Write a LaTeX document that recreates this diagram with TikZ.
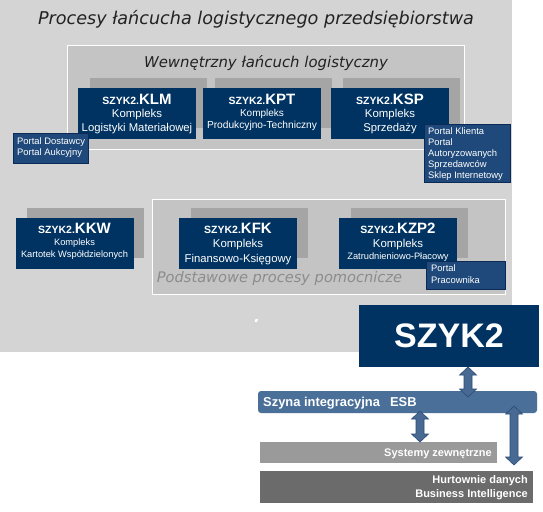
\documentclass[tikz,border=0pt]{standalone}
\usepackage{fontspec}
\setmainfont{Liberation Sans}
\newfontfamily\djv{DejaVu Sans}
\usetikzlibrary{calc}
\definecolor{bgc}{RGB}{212,212,212}
\definecolor{panelc}{RGB}{196,196,196}
\definecolor{shadowc}{RGB}{165,165,165}
\definecolor{navy}{RGB}{0,51,98}
\definecolor{portalc}{RGB}{31,73,122}
\definecolor{portalb}{RGB}{12,42,88}
\definecolor{esbc}{RGB}{74,111,152}
\definecolor{arrc}{RGB}{72,106,146}
\definecolor{arrb}{RGB}{42,76,120}
\definecolor{sysc}{RGB}{154,154,154}
\definecolor{hurc}{RGB}{107,107,107}
\definecolor{titc}{RGB}{34,34,34}
\definecolor{podc}{RGB}{140,140,140}
\tikzset{
  px/.style={x=1pt,y=-1pt},
  panel/.style={draw=white,line width=1pt,fill=panelc},
  modbox/.style={fill=navy,draw=none,minimum width=118pt,minimum height=51pt,inner sep=0pt},
  shadowbox/.style={fill=shadowc,draw=none,minimum width=117pt,minimum height=50pt,inner sep=0pt},
  portal/.style={fill=portalc,draw=portalb,line width=0.8pt},
  wtxt/.style={text=white,inner sep=0pt,anchor=base},
  ptxt/.style={text=white,inner sep=0pt,anchor=base west,font=\fontsize{9.4}{11}\selectfont},
  arrowst/.style={fill=arrc,draw=arrb,line width=0.6pt},
}
\newcommand{\modboxes}[3]{% name, cx, cy
  \node[shadowbox] (#1s) at (#2+11,#3-11) {};
  \node[modbox] (#1) at (#2,#3) {};
}
\newcommand{\modtxt}[9]{% name, code, off1, line2, size2, off2, line3, size3, off3
  \node[wtxt] at ($(#1.north)+(0,#3)$) {\bfseries\fontsize{10.5}{12}\selectfont SZYK2.\fontsize{15}{18}\selectfont #2};
  \node[wtxt,font=\fontsize{#5}{12}\selectfont] at ($(#1.north)+(0,#6)$) {#4};
  \node[wtxt,font=\fontsize{#8}{12}\selectfont] at ($(#1.north)+(0,#9)$) {#7};
}
\newcommand{\vdarrow}[4]{% name, x, ytop, ybot
  \filldraw[arrowst] (#2,#3) -- (#2+8.5,#3+8) -- (#2+4,#3+8) -- (#2+4,#4-8) -- (#2+8.5,#4-8) -- (#2,#4) -- (#2-8.5,#4-8) -- (#2-4,#4-8) -- (#2-4,#3+8) -- (#2-8.5,#3+8) -- cycle;
}
\begin{document}
\begin{tikzpicture}[px]
\useasboundingbox (0,0) rectangle (543,511);
\fill[white] (0,0) rectangle (543,511);
% background
\fill[bgc] (0,0) rectangle (512,352);
\node[text=titc,font=\djv\itshape\fontsize{17.6}{20}\selectfont] (title) at (256,19.5) {Procesy łańcucha logistycznego przedsiębiorstwa};
% inner panel
\draw[panel] (67,46) rectangle (464,149);
\node[text=titc,font=\djv\itshape\fontsize{14.9}{17}\selectfont] (wew) at (266,63) {Wewnętrzny łańcuch logistyczny};
% second panel
\draw[panel] (152,199) rectangle (505,294);
\node[text=podc,font=\djv\itshape\fontsize{14.6}{17}\selectfont] (pod) at (279.5,278) {Podstawowe procesy pomocnicze};
% modules
\modboxes{klm}{137}{113.5}
\modboxes{kpt}{262}{113.5}
\modboxes{ksp}{390}{113.5}
\modboxes{kkw}{74.5}{243.5}
\modboxes{kfk}{238}{243.5}
\modboxes{kzp}{398}{243.5}
\modtxt{klm}{KLM}{17}{Kompleks}{11.4}{30}{Logistyki Materiałowej}{11.3}{44}
\modtxt{kpt}{KPT}{17}{Kompleks}{10}{29}{Produkcyjno-Techniczny}{10.2}{41}
\modtxt{ksp}{KSP}{17}{Kompleks}{11.4}{30}{Sprzedaży}{11.3}{44}
\modtxt{kkw}{KKW}{15.5}{Kompleks}{9.3}{28}{Kartotek Współdzielonych}{9.3}{39.5}
\modtxt{kfk}{KFK}{16}{Kompleks}{11.4}{30}{Finansowo-Księgowy}{11.3}{45}
\modtxt{kzp}{KZP2}{16}{Kompleks}{11.4}{30}{Zatrudnieniowo-Płacowy}{9.3}{42}
% portals
\draw[portal] (13,133) rectangle (88,163);
\coordinate (pd) at (17,144);
\node[ptxt] at (pd) {Portal Dostawcy};
\node[ptxt] at ($(pd)+(0,11.5)$) {Portal Aukcyjny};
\draw[portal] (424,124) rectangle (510,182);
\coordinate (pk) at (428,134.5);
\node[ptxt] at (pk) {Portal Klienta};
\node[ptxt] at ($(pk)+(0,10.5)$) {Portal};
\node[ptxt] at ($(pk)+(0,21.5)$) {Autoryzowanych};
\node[ptxt] at ($(pk)+(0,32.5)$) {Sprzedawców};
\node[ptxt] at ($(pk)+(0,44)$) {Sklep Internetowy};
\draw[portal] (426,261) rectangle (505,289);
\coordinate (pp) at (431,271.5);
\node[ptxt] at (pp) {Portal};
\node[ptxt] at ($(pp)+(0,12)$) {Pracownika};
% tiny mark
\fill[white] (254.5,322) -- (255.5,319) -- (258,319) -- (257,322) -- cycle;
% SZYK2
\node[fill=navy,minimum width=180pt,minimum height=62pt,inner sep=0pt,text=white,font=\bfseries\fontsize{34}{36}\selectfont] (szyk) at (449,336) {SZYK2};
% ESB
\node[fill=esbc,rounded corners=3pt,minimum width=279pt,minimum height=22pt,inner sep=0pt] (esb) at (397.5,402) {};
\node[wtxt,anchor=base west,font=\bfseries\fontsize{12.9}{14}\selectfont] at (263,406.5) {Szyna integracyjna\hspace{10pt}ESB};
% lower boxes
\node[fill=sysc,minimum width=237pt,minimum height=21pt,inner sep=0pt] (sys) at (378.5,452.5) {};
\node[wtxt,anchor=base east,font=\bfseries\fontsize{11}{13}\selectfont] at (492,456.5) {Systemy zewnętrzne};
\node[fill=hurc,minimum width=273pt,minimum height=32pt,inner sep=0pt] (hur) at (396.5,487) {};
\node[wtxt,anchor=base east,font=\bfseries\fontsize{11}{13}\selectfont] at (528,483) {Hurtownie danych};
\node[wtxt,anchor=base east,font=\bfseries\fontsize{11}{13}\selectfont] at (528,497) {Business Intelligence};
% arrows
\vdarrow{a1}{468}{367}{397}
\vdarrow{a2}{420}{411}{442}
\vdarrow{a3}{514}{406}{465}
\end{tikzpicture}
\end{document}
